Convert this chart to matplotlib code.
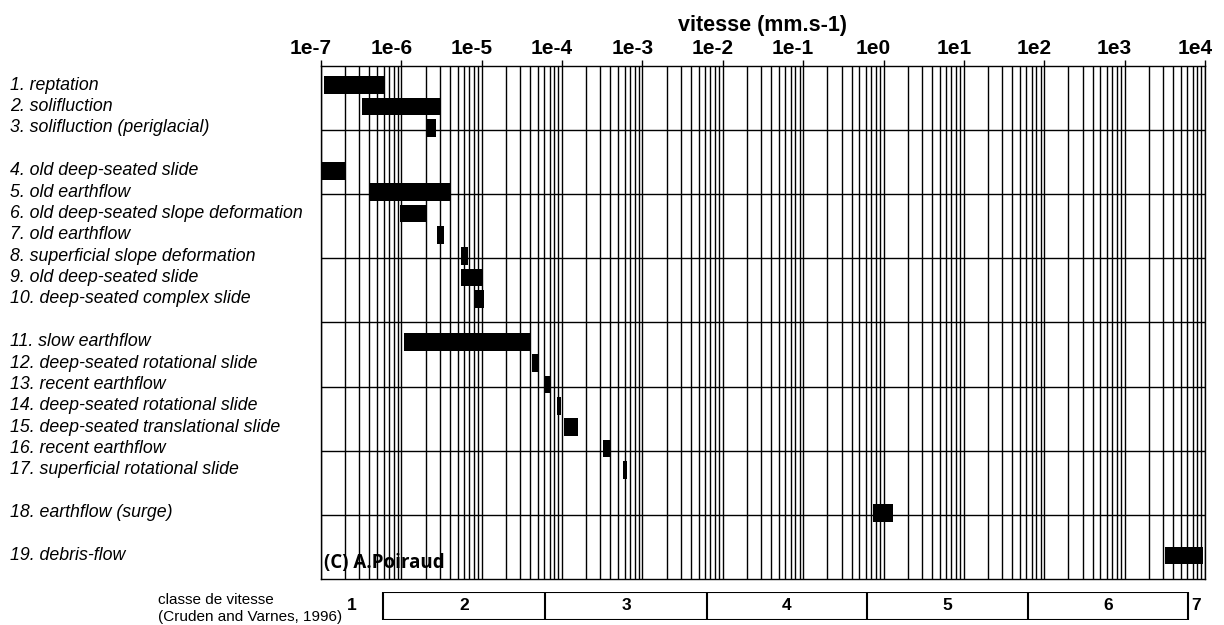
import numpy as np
import matplotlib
matplotlib.use('Agg')
import matplotlib.pyplot as plt
import matplotlib.transforms as mtransforms
from matplotlib.ticker import LogLocator, NullFormatter

# rows of the chart (top to bottom), speed ranges in mm/s
labels = ['1. reptation', '2. solifluction', '3. solifluction (periglacial)',
          '4. old deep-seated slide', '5. old earthflow',
          '6. old deep-seated slope deformation', '7. old earthflow',
          '8. superficial slope deformation', '9. old deep-seated slide',
          '10. deep-seated complex slide',
          '11. slow earthflow', '12. deep-seated rotational slide',
          '13. recent earthflow', '14. deep-seated rotational slide',
          '15. deep-seated translational slide', '16. recent earthflow',
          '17. superficial rotational slide',
          '18. earthflow (surge)',
          '19. debris-flow']
v_min = [1.09e-7, 3.2e-7, 2.03e-6,
         1.02e-7, 4.07e-7, 9.6e-7, 2.75e-6, 5.47e-6, 5.47e-6, 8.0e-6,
         1.08e-6, 4.2e-5, 5.96e-5, 8.7e-5, 1.07e-4, 3.2e-4, 5.8e-4,
         0.73,
         3.18e3]
v_max = [6.1e-7, 3.0e-6, 2.7e-6,
         2.0e-7, 4.1e-6, 2.03e-6, 3.4e-6, 6.7e-6, 1.02e-5, 1.07e-5,
         4.07e-5, 5.2e-5, 7.3e-5, 9.7e-5, 1.6e-4, 4.06e-4, 6.5e-4,
         1.32,
         9.5e3]
group_sizes = [3, 7, 7, 1, 1]

# decade labels of the top axis
decades = [-7, -6, -5, -4, -3, -2, -1, 0, 1, 2, 3, 4]
decade_labels = ['1e%d' % d for d in decades]

# Cruden and Varnes (1996) velocity classes, as drawn
class_bounds = [5.9e-7, 6.1e-5, 6.4e-3, 0.62, 63, 6150]
class_names = ['1', '2', '3', '4', '5', '6', '7']

# row positions with a blank line between groups
pos = []
p = 0
for g in group_sizes:
    for i in range(g):
        pos.append(p)
        p += 1
    p += 1

W, H = 1224, 625
fig = plt.figure(figsize=(W / 100, H / 100), dpi=100)
ax = fig.add_axes([321 / W, 1 - 579 / H, (1205 - 321) / W, (579 - 66) / H])

xmin, xmax = 1e-7, 1e4
ax.set_xscale('log')
ax.set_xlim(xmin, xmax)
ax.set_ylim(23.1, -0.9)

ax.barh(pos, np.array(v_max) - np.array(v_min), left=v_min, height=0.82,
        color='black', zorder=3)

# grid
ax.xaxis.set_major_locator(LogLocator(base=10, numticks=20))
ax.xaxis.set_minor_locator(LogLocator(base=10, subs=np.arange(2, 10), numticks=200))
ax.xaxis.set_minor_formatter(NullFormatter())
ax.grid(which='both', axis='x', color='black', lw=1.0)
for yy in np.arange(2.1, 21, 3):
    ax.axhline(yy, color='black', lw=1.0)
for s in ax.spines.values():
    s.set_linewidth(1.0)

ax.set_yticks([])
ax.xaxis.tick_top()
ax.set_xticks([10.0 ** d for d in decades])
ax.set_xticklabels(decade_labels, fontsize=15, fontweight='bold',
                   family='Liberation Sans')
ax.tick_params(axis='x', which='major', length=4, width=1.0, pad=2)
ax.tick_params(axis='x', which='minor', length=0)
shift = mtransforms.ScaledTranslation(-10 / 100, 0, fig.dpi_scale_trans)
for lab in ax.get_xticklabels():
    lab.set_transform(lab.get_transform() + shift)

fig.text((321 + 1205) / 2 / W, 1 - 25 / H, 'vitesse (mm.s-1)', ha='center',
         va='center', fontsize=15.5, fontweight='bold', family='Liberation Sans')

# row labels
trans = mtransforms.blended_transform_factory(fig.transFigure, ax.transData)
for y, lab in zip(pos, labels):
    ax.text(10 / W, y, lab, transform=trans, ha='left', va='center',
            fontsize=12.8, style='italic', family='Liberation Sans')

ax.text(0.003, 0.031, '(C) A.Poiraud', transform=ax.transAxes, ha='left',
        va='center', fontsize=13.5, fontweight='bold', family='Open Sans',
        zorder=4)

# velocity class bar
ax2 = fig.add_axes([321 / W, 1 - 620 / H, (1205 - 321) / W, 28 / H])
ax2.set_xscale('log')
ax2.set_xlim(xmin, xmax)
ax2.set_ylim(0, 1)
ax2.axis('off')
ax2.hlines([0, 1], class_bounds[0], class_bounds[-1], color='black', lw=1.5)
ax2.vlines(class_bounds, 0, 1, color='black', lw=1.5)
edges = [xmin] + class_bounds + [xmax]
for i, name in enumerate(class_names):
    xc = np.sqrt(edges[i] * edges[i + 1])
    ax2.text(xc, 0.5, name, ha='center', va='center', fontsize=12.5,
             fontweight='bold', family='Liberation Sans')

fig.text(158 / W, 1 - 600 / H, 'classe de vitesse', ha='left', va='center',
         fontsize=11, family='Liberation Sans')
fig.text(158 / W, 1 - 617 / H, '(Cruden and Varnes, 1996)', ha='left',
         va='center', fontsize=11, family='Liberation Sans')

fig.savefig('out.png', dpi=100)
